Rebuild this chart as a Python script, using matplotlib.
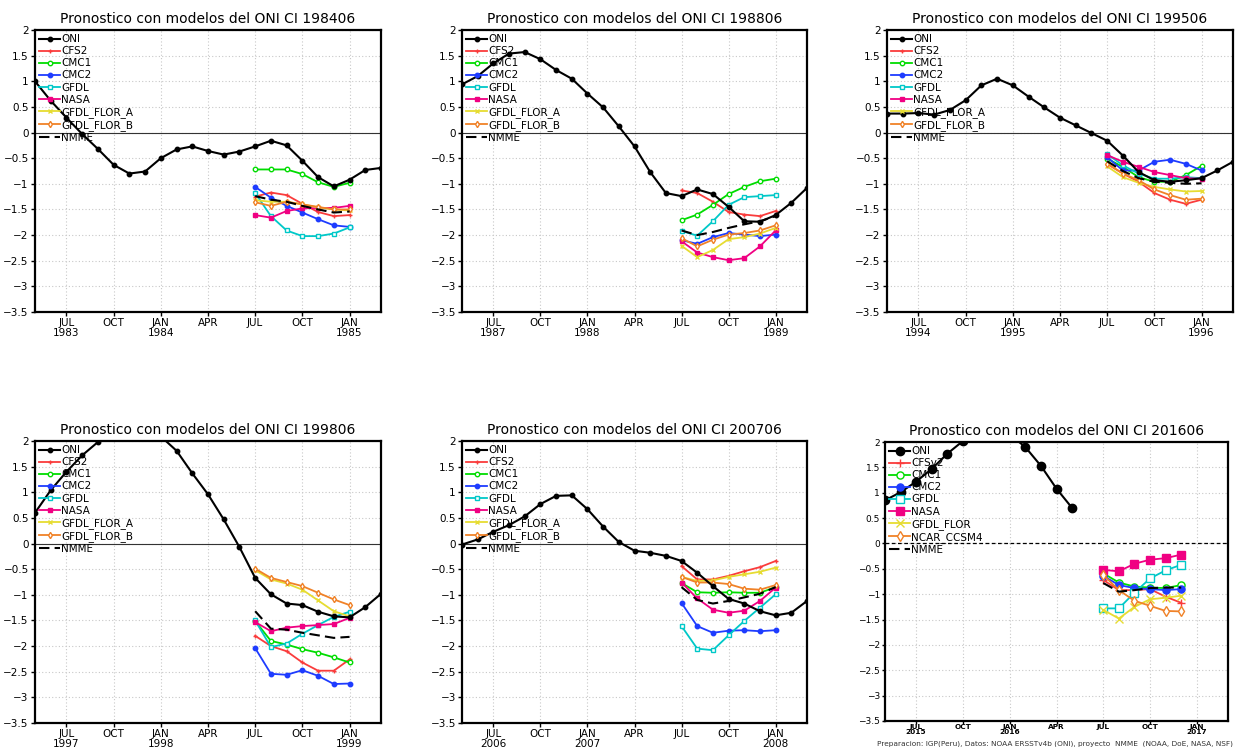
import numpy as np
import matplotlib
matplotlib.use("Agg")
import matplotlib.pyplot as plt

# panel names (forecast start) and year of the first JUL tick
panels = ["198406", "198806", "199506", "199806", "200706", "201606"]
first_years = [1983, 1987, 1994, 1997, 2006, 2015]
tick_months = ["JUL", "OCT", "JAN", "APR", "JUL", "OCT", "JAN"]

# observed ONI, monthly, starting two months before the first JUL tick
oni_198406 = [1.0, 0.62, 0.29, -0.03, -0.32, -0.63, -0.80, -0.76, -0.50, -0.33, -0.27, -0.36,
              -0.43, -0.37, -0.27, -0.16, -0.25, -0.55, -0.87, -1.05, -0.92, -0.73, -0.69]
oni_198806 = [0.94, 1.10, 1.35, 1.54, 1.57, 1.43, 1.22, 1.05, 0.76, 0.49, 0.12, -0.27,
              -0.77, -1.18, -1.24, -1.11, -1.20, -1.45, -1.73, -1.74, -1.61, -1.37, -1.08]
oni_199506 = [0.37, 0.37, 0.38, 0.35, 0.44, 0.63, 0.92, 1.05, 0.92, 0.70, 0.49, 0.29,
              0.14, -0.01, -0.16, -0.45, -0.77, -0.93, -0.96, -0.93, -0.89, -0.74, -0.57]
oni_199806 = [0.60, 1.04, 1.40, 1.72, 1.98, 2.2, 2.3, 2.25, 2.09, 1.81, 1.37, 0.96,
              0.47, -0.07, -0.67, -0.99, -1.17, -1.20, -1.33, -1.42, -1.44, -1.24, -0.98]
oni_200706 = [-0.02, 0.08, 0.23, 0.36, 0.53, 0.77, 0.93, 0.94, 0.67, 0.33, 0.03, -0.14,
              -0.18, -0.24, -0.34, -0.57, -0.83, -1.08, -1.17, -1.32, -1.40, -1.35, -1.12]
oni_201606 = [0.85, 1.01, 1.22, 1.47, 1.77, 2.02, 2.2, 2.3, 2.15, 1.90, 1.53, 1.08, 0.70]

# model forecasts from JUL of the second year
fc_198406 = {
    "CFS2": [-1.25, -1.17, -1.22, -1.39, -1.55, -1.63, -1.61],
    "CMC1": [-0.72, -0.72, -0.72, -0.81, -0.97, -1.06, -0.98],
    "CMC2": [-1.06, -1.27, -1.43, -1.56, -1.69, -1.81, -1.84],
    "GFDL": [-1.18, -1.63, -1.91, -2.02, -2.02, -1.97, -1.85],
    "NASA": [-1.61, -1.66, -1.53, -1.48, -1.47, -1.47, -1.43],
    "GFDL_FLOR_A": [-1.32, -1.35, -1.35, -1.40, -1.46, -1.50, -1.52],
    "GFDL_FLOR_B": [-1.36, -1.43, -1.35, -1.40, -1.45, -1.50, -1.50],
    "NMME": [-1.24, -1.31, -1.35, -1.43, -1.50, -1.56, -1.54],
}
fc_198806 = {
    "CFS2": [-1.13, -1.18, -1.35, -1.55, -1.60, -1.63, -1.53],
    "CMC1": [-1.71, -1.60, -1.41, -1.20, -1.06, -0.95, -0.90],
    "CMC2": [-2.10, -2.17, -2.04, -1.96, -1.99, -2.02, -1.99],
    "GFDL": [-1.92, -2.01, -1.73, -1.41, -1.26, -1.24, -1.22],
    "NASA": [-2.12, -2.34, -2.43, -2.49, -2.45, -2.22, -1.91],
    "GFDL_FLOR_A": [-2.21, -2.43, -2.29, -2.08, -2.04, -1.97, -1.86],
    "GFDL_FLOR_B": [-2.06, -2.22, -2.09, -1.99, -1.96, -1.91, -1.81],
    "NMME": [-1.91, -2.00, -1.94, -1.86, -1.79, -1.73, -1.63],
}
fc_199506 = {
    "CFS2": [-0.61, -0.80, -0.96, -1.18, -1.31, -1.39, -1.31],
    "CMC1": [-0.51, -0.67, -0.87, -0.96, -0.96, -0.83, -0.65],
    "CMC2": [-0.48, -0.74, -0.74, -0.57, -0.53, -0.61, -0.74],
    "GFDL": [-0.42, -0.64, -0.80, -0.90, -0.90, -0.87, -0.89],
    "NASA": [-0.44, -0.57, -0.67, -0.77, -0.83, -0.89, -0.90],
    "GFDL_FLOR_A": [-0.66, -0.87, -0.98, -1.06, -1.11, -1.15, -1.14],
    "GFDL_FLOR_B": [-0.61, -0.80, -0.93, -1.11, -1.22, -1.31, -1.29],
    "NMME": [-0.56, -0.75, -0.89, -0.96, -0.98, -1.00, -0.99],
}
fc_199806 = {
    "CFS2": [-1.80, -2.00, -2.10, -2.32, -2.48, -2.48, -2.26],
    "CMC1": [-1.51, -1.90, -1.97, -2.06, -2.13, -2.22, -2.32],
    "CMC2": [-2.04, -2.54, -2.56, -2.47, -2.58, -2.74, -2.73],
    "GFDL": [-1.50, -2.02, -1.95, -1.76, -1.59, -1.43, -1.33],
    "NASA": [-1.53, -1.71, -1.64, -1.61, -1.59, -1.57, -1.45],
    "GFDL_FLOR_A": [-0.52, -0.70, -0.78, -0.90, -1.11, -1.32, -1.42],
    "GFDL_FLOR_B": [-0.49, -0.67, -0.75, -0.83, -0.96, -1.09, -1.20],
    "NMME": [-1.32, -1.66, -1.68, -1.74, -1.79, -1.84, -1.82],
}
fc_200706 = {
    "CFS2": [-0.44, -0.70, -0.70, -0.63, -0.54, -0.46, -0.34],
    "CMC1": [-0.77, -0.95, -0.96, -0.95, -0.96, -0.96, -0.85],
    "CMC2": [-1.16, -1.61, -1.74, -1.70, -1.69, -1.71, -1.69],
    "GFDL": [-1.61, -2.05, -2.08, -1.79, -1.51, -1.25, -0.99],
    "NASA": [-0.76, -1.07, -1.29, -1.35, -1.31, -1.12, -0.86],
    "GFDL_FLOR_A": [-0.65, -0.73, -0.72, -0.65, -0.60, -0.55, -0.47],
    "GFDL_FLOR_B": [-0.65, -0.76, -0.76, -0.79, -0.88, -0.90, -0.81],
    "NMME": [-0.85, -1.10, -1.17, -1.12, -1.05, -0.98, -0.85],
}
fc_201606 = {
    "CFSv2": [-0.72, -0.92, -0.92, -0.90, -1.05, -1.17],
    "CMC1": [-0.59, -0.77, -0.85, -0.87, -0.88, -0.82],
    "CMC2": [-0.64, -0.82, -0.88, -0.90, -0.92, -0.90],
    "GFDL": [-1.28, -1.28, -0.97, -0.69, -0.53, -0.42],
    "NASA": [-0.52, -0.55, -0.40, -0.32, -0.29, -0.22],
    "GFDL_FLOR": [-1.31, -1.48, -1.25, -1.10, -1.07, -1.03],
    "NCAR_CCSM4": [-0.62, -0.92, -1.13, -1.23, -1.33, -1.34],
    "NMME": [-0.78, -0.95, -0.92, -0.88, -0.87, -0.87],
}

oni_all = [oni_198406, oni_198806, oni_199506, oni_199806, oni_200706, oni_201606]
fc_all = [fc_198406, fc_198806, fc_199506, fc_199806, fc_200706, fc_201606]

# style per model, by position in the dict
colors = ["#fa3c3c", "#00dc00", "#1e3cff", "#00c8c8", "#f00082", "#e6dc32", "#f08228", "black"]
markers = ["+", "o", "o", "s", "s", "x", "d", None]
filled = [True, False, True, False, True, True, False, True]

plt.rcParams["font.family"] = ["DejaVu Sans"]
fig = plt.figure(figsize=(12.42, 7.47), dpi=100)

W, H = 1242.0, 747.0
boxes = [(35, 30, 381, 312), (462, 30, 807, 312), (887, 30, 1233, 312),
         (35, 441, 381, 723), (462, 441, 807, 723), (885, 442, 1228, 721)]

for k, name in enumerate(panels):
    x0, y0, x1, y1 = boxes[k]
    ax = fig.add_axes([x0 / W, 1 - y1 / H, (x1 - x0) / W, (y1 - y0) / H])
    last = (k == 5)
    big = 1.6 if last else 1.0

    oni = oni_all[k]
    xo = np.arange(-2, -2 + len(oni))
    ax.plot(xo, oni, "-o", color="black", lw=1.5, ms=6 if last else 3.2,
            label="ONI", zorder=4)

    fc = fc_all[k]
    for i, (model, vals) in enumerate(fc.items()):
        xf = np.arange(12, 12 + len(vals))
        if model == "NMME":
            ax.plot(xf, vals, "--", color="black", lw=1.5, dashes=(5, 2.5), label=model, zorder=3)
            continue
        mfc = colors[i] if filled[i] else "white"
        ax.plot(xf, vals, "-", color=colors[i], marker=markers[i], ms=3.2 * big,
                mfc=mfc, mec=colors[i], mew=1.0, lw=1.3, label=model, zorder=3)

    if last:
        ax.axhline(0, color="black", lw=0.9, ls=(0, (3, 2)), zorder=2)
    else:
        ax.axhline(0, color="#333333", lw=0.8, zorder=2)

    ax.set_xlim(-2, 20)
    ax.set_ylim(-3.5, 2)
    yt = np.arange(-3.5, 2.01, 0.5)
    ax.set_yticks(yt)
    ax.set_yticklabels(["%g" % v if v >= 0 else "\u2212%g" % -v for v in yt])
    xt = np.arange(0, 19, 3)
    labels = []
    yr = first_years[k]
    for j, m in enumerate(tick_months):
        if m == "JAN":
            yr += 1
            labels.append("%s\n%d" % (m, yr))
        elif j == 0:
            labels.append("%s\n%d" % (m, yr))
        else:
            labels.append(m)
    ax.set_xticks(xt)
    ax.set_xticklabels(labels, linespacing=0.8 if last else 0.95)
    ax.grid(True, color="#c8c8c8", ls=(0, (1, 2)), lw=0.8)
    ax.tick_params(direction="out", length=3, width=1, pad=1.5)
    if last:
        ax.tick_params(axis="x", labelsize=5.3, pad=0.5, length=2)
        ax.tick_params(axis="y", labelsize=6.5, length=2)
        for t in ax.get_xticklabels():
            t.set_fontweight("bold")
    else:
        ax.tick_params(axis="both", labelsize=7.5)
    for sp in ax.spines.values():
        sp.set_linewidth(1.6)

    ax.set_title("Pronostico con modelos del ONI CI " + name, fontsize=10, pad=5)
    ax.legend(loc="upper left", frameon=False, fontsize=7.5, handlelength=2.0,
              handletextpad=0.1, labelspacing=0.2, borderaxespad=0.2, borderpad=0.2)

fig.text(1055 / W, 1 - 743.5 / H,
         "Preparacion: IGP(Peru), Datos: NOAA ERSSTv4b (ONI), proyecto  NMME  (NOAA, DoE, NASA, NSF)",
         fontsize=5.3, ha="center", va="center", color="#333333")

fig.savefig("out.png", dpi=100)
